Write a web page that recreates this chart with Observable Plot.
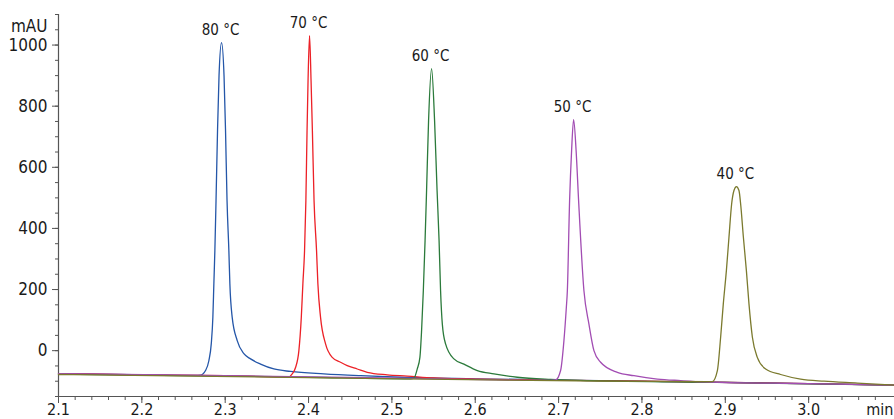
<!DOCTYPE html>
<html><head><meta charset="utf-8">
<script src="https://cdn.jsdelivr.net/npm/d3@7"></script>
<script src="https://cdn.jsdelivr.net/npm/@observablehq/plot@0.6"></script>
<style>
html,body{margin:0;padding:0;background:#fff;}
#chart svg{display:block;}
</style></head><body><div id="chart"></div>
<script>
const seriesNames = ["80 °C","70 °C","60 °C","50 °C","40 °C"];
const seriesColors = ["#2456a8","#ec2127","#2b7a3b","#a24db3","#7b7a2e"];

const t80 = [2.1, 2.2104, 2.2644, 2.2704, 2.2764, 2.2804, 2.2833, 2.2852, 2.2864, 2.2876, 2.2890, 2.2908, 2.2926, 2.2956, 2.2986, 2.3004, 2.3022, 2.3044, 2.3056, 2.3084, 2.3144, 2.3224, 2.3304, 2.3424, 2.3584, 2.3784, 2.4184, 2.4624, 2.5104, 2.6, 2.8, 3.0, 3.103];
const v80 = [-75, -79, -81, -80, -65, -33, 23, 109, 219, 327, 491, 720, 900, 1008, 900, 720, 491, 327, 219, 109, 33, -10, -27, -44, -60, -68, -76, -82, -87, -92, -100, -108, -113];

const t70 = [2.1, 2.2, 2.3, 2.3764, 2.3804, 2.3844, 2.3884, 2.3913, 2.3932, 2.3952, 2.3968, 2.3982, 2.3994, 2.4012, 2.4030, 2.4046, 2.4066, 2.4096, 2.4112, 2.4144, 2.4204, 2.4284, 2.4384, 2.4464, 2.4584, 2.4704, 2.4944, 2.5184, 2.55, 2.65, 2.8, 3.0, 3.103];
const v70 = [-75, -79, -82, -86, -76, -55, 0, 109, 219, 327, 491, 720, 884, 1031, 884, 720, 491, 327, 219, 109, 22, -22, -38, -49, -60, -71, -79, -83, -89, -95, -100, -108, -113];

const t60 = [2.1, 2.3, 2.4, 2.5224, 2.5264, 2.5305, 2.5336, 2.5356, 2.5377, 2.5398, 2.5416, 2.5440, 2.5476, 2.5512, 2.5542, 2.5566, 2.5584, 2.5605, 2.5644, 2.5744, 2.5864, 2.6025, 2.6224, 2.6505, 2.6904, 2.7384, 2.9, 3.103];
const v60 = [-77, -83, -87, -92, -90, -59, -22, 65, 196, 360, 524, 753, 923, 753, 524, 360, 196, 87, 22, -27, -44, -65, -76, -87, -94, -98, -104, -113];

const t50 = [2.1, 2.3, 2.5104, 2.6904, 2.6964, 2.7024, 2.7064, 2.7093, 2.7105, 2.7132, 2.7156, 2.7180, 2.7210, 2.7240, 2.7304, 2.7364, 2.7424, 2.7504, 2.7705, 2.7904, 2.8185, 2.8464, 2.8744, 3.0, 3.103];
const v50 = [-75, -82, -90, -97, -96, -65, 33, 142, 196, 491, 655, 756, 655, 491, 196, 87, 0, -38, -71, -82, -93, -98, -102, -108, -113];

const t40 = [2.1, 2.4, 2.7504, 2.8845, 2.8905, 2.8944, 2.8976, 2.9013, 2.9044, 2.9076, 2.9104, 2.9133, 2.9164, 2.9184, 2.9217, 2.9253, 2.9284, 2.9325, 2.9384, 2.9484, 2.9664, 2.9904, 3.0184, 3.0585, 3.103];
const v40 = [-78, -88, -100, -101, -65, 44, 153, 262, 371, 480, 524, 537, 524, 480, 371, 262, 153, 44, -22, -60, -78, -93, -100, -106, -113];

const xMajor = [2.1, 2.2, 2.3, 2.4, 2.5, 2.6, 2.7, 2.8, 2.9, 3.0];
const yMajor = [0, 200, 400, 600, 800, 1000];
const xMinor = d3.range(0, 50).map(i => +(2.1 + i * 0.02).toFixed(2));
const yMinor = d3.range(-150, 1101, 50);
const xUnit = "min";
const yUnit = "mAU";

const times = [t80, t70, t60, t50, t40];
const values = [v80, v70, v60, v50, v40];
const rows = seriesNames.flatMap((name, i) => times[i].map((t, j) => ({series: name, t, v: values[i][j]})));
const peaks = seriesNames.map(name => d3.greatest(rows.filter(r => r.series === name), r => r.v));

const font = "'Liberation Sans Narrow', 'DejaVu Sans Condensed', 'Arial Narrow', sans-serif";
const axisColor = "#555";
const textColor = "#1a1a1a";

const chart = Plot.plot({
  width: 894, height: 419,
  marginLeft: 58, marginRight: 0, marginTop: 14, marginBottom: 23,
  x: {domain: [2.1, 3.103]},
  y: {domain: [-150, 1100]},
  color: {domain: seriesNames, range: seriesColors},
  style: {fontFamily: font, fontSize: "17px", color: textColor, background: "#fff"},
  marks: [
    Plot.axisY(yMinor, {tickSize: 3, text: null, fill: "none", label: null, stroke: axisColor}),
    Plot.axisY(yMajor, {tickSize: 6, tickPadding: 5, tickFormat: d => String(d), label: null, stroke: axisColor, fill: textColor, fontSize: 17}),
    Plot.axisX(xMinor, {tickSize: 4, text: null, fill: "none", label: null, stroke: axisColor}),
    Plot.axisX(xMajor, {tickSize: 7, tickPadding: 0, tickFormat: d => d.toFixed(1), label: null, stroke: axisColor, fill: textColor, fontSize: 16}),
    Plot.ruleX([2.1], {y1: -150, y2: 1100, stroke: axisColor, strokeWidth: 1.2}),
    Plot.ruleY([-150], {stroke: axisColor, strokeWidth: 1.2}),
    Plot.line(rows, {x: "t", y: "v", z: "series", stroke: "series", strokeWidth: 1.3, curve: "monotone-x"}),
    Plot.text(peaks, {x: "t", y: "v", text: "series", dy: -12, dx: -1, fontSize: 15, fill: textColor}),
    Plot.text([yUnit], {frameAnchor: "top-left", dx: -11, dy: 5, textAnchor: "end", fontSize: 17, fill: textColor}),
    Plot.text([xUnit], {frameAnchor: "bottom-right", dx: -1, dy: 7, textAnchor: "end", lineAnchor: "top", fontSize: 16, fill: textColor})
  ]
});
document.getElementById("chart").appendChild(chart);
</script>
</body></html>
